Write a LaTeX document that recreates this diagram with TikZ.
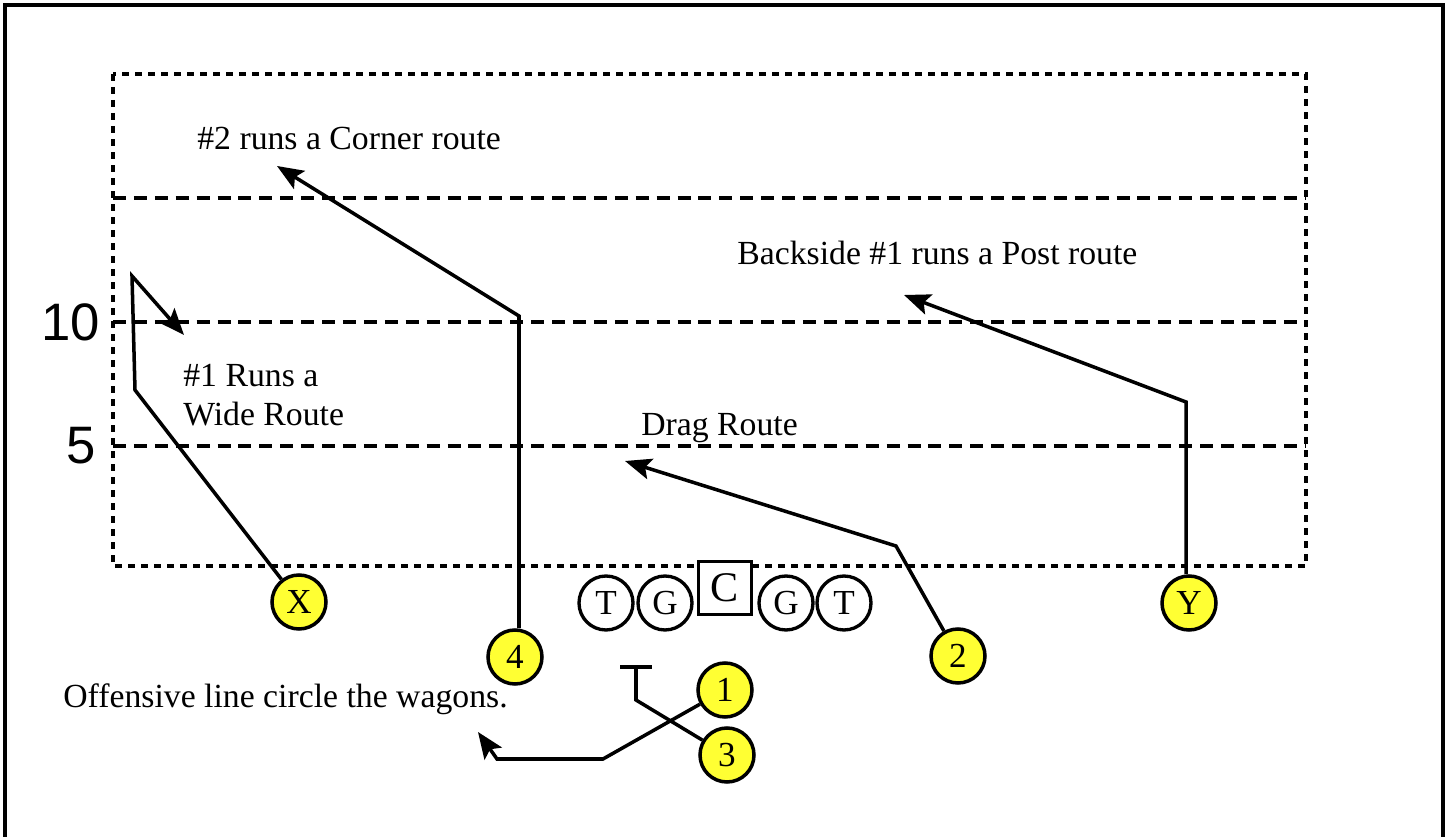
\documentclass[tikz,border=0pt]{standalone}
\usepackage{fontspec}
\setmainfont{Liberation Serif}
\newfontfamily\arialfont{Liberation Sans}
\usetikzlibrary{arrows.meta}
\definecolor{playeryellow}{RGB}{255,255,51}
\begin{document}
\begin{tikzpicture}[x=0.02cm,y=-0.02cm,
  route/.style={line width=2pt, line join=miter},
  arr/.style={route, -{Stealth[length=15pt,width=12pt,inset=3pt]}},
  player/.style={circle, draw, line width=2pt, fill=playeryellow, minimum size=1.08cm, inner sep=0pt, font=\fontsize{20}{20}\selectfont},
  lineman/.style={circle, draw, line width=1.9pt, fill=white, minimum size=1.08cm, inner sep=0pt, font=\fontsize{20}{20}\selectfont},
  center/.style={rectangle, draw, line width=1.9pt, fill=white, minimum size=1.06cm, inner sep=0pt, font=\fontsize{24}{24}\selectfont},
  label/.style={anchor=west, inner sep=0pt, font=\fontsize{19.2}{22}\selectfont},
  yard/.style={inner sep=0pt, font=\arialfont\fontsize{30}{30}\selectfont},
  dotbox/.style={line width=2pt, dash pattern=on 3.8pt off 3.6pt},
  dashline/.style={line width=2pt, dash pattern=on 7.4pt off 4.5pt}]
\useasboundingbox (0,0) rectangle (1451,837);
\begin{scope}
  \clip (0,0) rectangle (1451,837);
  \draw[line width=2.5pt] (5,5) rectangle (1443,900);
\end{scope}
% field
\draw[dotbox] (113,74) rectangle (1306,566);
\draw[dashline] (113,198) -- (1306,198);
\draw[dashline] (113,322) -- (1306,322);
\draw[dashline] (113,446) -- (1306,446);
\node[yard] (ten) at (71,322) {10};
\node[yard] (five) at (81,446) {5};
% labels
\node[label] (l2) at (197,139) {\#2 runs a Corner route};
\node[label] (lb) at (737,253) {Backside \#1 runs a Post route};
\node[label, align=left] (l1) at (183,395) {\#1 Runs a\\Wide Route};
\node[label] (ld) at (641,428) {Drag Route};
\node[label] (lo) at (63,699) {Offensive line circle the wagons.};
% line
\node[lineman] (t1) at (606,603) {T};
\node[lineman] (g1) at (665,603) {G};
\node[center] (c) at (725,588) {C};
\node[lineman] (g2) at (786,603) {G};
\node[lineman] (t2) at (844,603) {T};
% players
\node[player] (X) at (299,602) {X};
\node[player] (p4) at (515,657) {4};
\node[player] (p2) at (958,656) {2};
\node[player] (Y) at (1189,603) {Y};
\node[player] (p1) at (725,690) {1};
\node[player] (p3) at (727,755) {3};
% route points
\coordinate (x1) at (135,390);
\coordinate (x2) at (132,276);
\coordinate (xe) at (184,335);
\coordinate (f1) at (519,316);
\coordinate (fe) at (277,166);
\coordinate (y1) at (1186,402);
\coordinate (ye) at (904,295);
\coordinate (t1a) at (896,546);
\coordinate (te) at (625,461);
\coordinate (o1) at (603,759);
\coordinate (o2) at (497,759);
\coordinate (oe) at (478,732);
\coordinate (h1) at (636,700);
\coordinate (h2) at (636,665);
% routes
\draw[arr] (X) -- (x1) -- (x2) -- (xe);
\draw[arr] (p4.north -| f1) -- (f1) -- (fe);
\draw[arr] (Y.north -| y1) -- (y1) -- (ye);
\draw[arr] (p2) -- (t1a) -- (te);
\draw[arr] (p1) -- (o1) -- (o2) -- (oe);
\draw[route, -{Bar[width=0.64cm]}] (p3) -- (h1) -- (h2);
\end{tikzpicture}
\end{document}
